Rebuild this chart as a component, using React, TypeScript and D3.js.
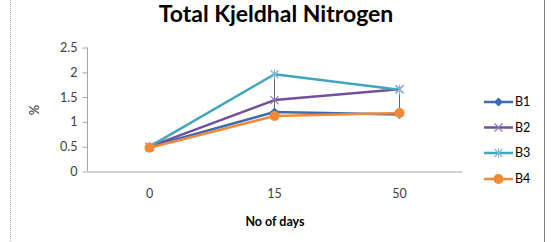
import { useEffect, useRef } from 'react';
import * as d3 from 'd3';

const days = ['0', '15', '50'];
const seriesNames = ['B1', 'B2', 'B3', 'B4'];
const b1 = [0.5, 1.2, 1.15];
const b2 = [0.5, 1.44, 1.66];
const b3 = [0.5, 1.96, 1.65];
const b4 = [0.48, 1.12, 1.18];
const yTicks = [0, 0.5, 1, 1.5, 2, 2.5];
const colors = ['#3D6DAF', '#7150A0', '#40A5BE', '#F28A35'];

export default function App() {
  const svgRef = useRef<SVGSVGElement>(null);

  useEffect(() => {
    if (!svgRef.current) return;
    const svg = d3.select(svgRef.current);
    svg.selectAll('*').remove();

    const values = [b1, b2, b3, b4];
    const font = 'Lato, "Open Sans", sans-serif';

    svg.append('rect').attr('width', 556).attr('height', 242).attr('fill', '#fff');

    // chart area borders
    svg.append('line').attr('x1', 10.5).attr('x2', 10.5).attr('y1', 0).attr('y2', 242)
      .attr('stroke', '#a6a6a6').attr('stroke-width', 1).attr('stroke-dasharray', '1,1');
    svg.append('line').attr('x1', 544.5).attr('x2', 544.5).attr('y1', 0).attr('y2', 242)
      .attr('stroke', '#7f7f7f').attr('stroke-width', 1);

    const x = d3.scaleBand().domain(days).range([87, 462]);
    const y = d3.scaleLinear().domain([0, 2.5]).range([171.5, 47.5]);

    // title
    svg.append('text')
      .attr('x', 276).attr('y', 22)
      .attr('text-anchor', 'middle')
      .attr('font-family', font).attr('font-weight', 'bold').attr('font-size', 23)
      .attr('fill', '#000')
      .text('Total Kjeldhal Nitrogen');

    // y axis
    const yAxis = svg.append('g').attr('transform', 'translate(87.5,0)')
      .call(d3.axisLeft(y).tickValues(yTicks).tickSize(5).tickFormat(d => String(d)));
    yAxis.select('.domain').attr('stroke', '#a6a6a6').attr('d', `M0,${y(2.5)}V${y(0)}`);
    yAxis.selectAll('.tick line').attr('stroke', '#a6a6a6');
    yAxis.selectAll('.tick text').attr('font-family', font).attr('font-size', 12.5)
      .attr('fill', '#404040').attr('x', -10);

    // x axis
    const xAxis = svg.append('g').attr('transform', `translate(0,${y(0)})`)
      .call(d3.axisBottom(x).tickSize(0));
    xAxis.select('.domain').attr('stroke', '#a6a6a6');
    xAxis.selectAll('.tick text').attr('font-family', font).attr('font-size', 12.5)
      .attr('fill', '#404040').attr('y', 18).attr('dy', '0.71em');

    svg.append('text')
      .attr('transform', 'translate(39,110) rotate(-90)')
      .attr('text-anchor', 'middle')
      .attr('font-family', font).attr('font-size', 13)
      .attr('fill', '#262626')
      .text('%');

    svg.append('text')
      .attr('x', 275).attr('y', 226)
      .attr('text-anchor', 'middle')
      .attr('font-family', font).attr('font-weight', 'bold').attr('font-size', 12.5)
      .text('No of days');

    const cx = (d: string) => (x(d) ?? 0) + x.bandwidth() / 2;

    const drawMarker = (g: any, i: number, px: number, py: number) => {
      const c = colors[i];
      if (i === 0) {
        g.append('path').attr('d', `M${px},${py - 4.5}L${px + 4.5},${py}L${px},${py + 4.5}L${px - 4.5},${py}Z`)
          .attr('fill', c);
      } else if (i === 1) {
        g.append('path').attr('d', `M${px - 4},${py - 4}L${px + 4},${py + 4}M${px - 4},${py + 4}L${px + 4},${py - 4}`)
          .attr('stroke', '#8a7ab8').attr('stroke-width', 1.2).attr('fill', 'none');
      } else if (i === 2) {
        g.append('path').attr('d', `M${px - 4},${py - 4}L${px + 4},${py + 4}M${px - 4},${py + 4}L${px + 4},${py - 4}M${px},${py - 5}V${py + 5}`)
          .attr('stroke', '#7fb7d6').attr('stroke-width', 1.2).attr('fill', 'none');
      } else {
        g.append('circle').attr('cx', px).attr('cy', py).attr('r', 5).attr('fill', c);
      }
    };

    // lines
    const line = d3.line<number>()
      .x((_, j) => cx(days[j]))
      .y(v => y(v));

    values.forEach((vals, i) => {
      svg.append('path')
        .attr('d', line(vals))
        .attr('fill', 'none')
        .attr('stroke', colors[i])
        .attr('stroke-width', 2.5)
        .attr('stroke-linejoin', 'round');
    });

    // high-low lines
    days.forEach((d, j) => {
      const col = values.map(v => v[j]);
      const hi = d3.max(col) ?? 0;
      const lo = d3.min(col) ?? 0;
      svg.append('line')
        .attr('x1', cx(d)).attr('x2', cx(d))
        .attr('y1', y(hi)).attr('y2', y(lo))
        .attr('stroke', '#404040').attr('stroke-width', 0.8);
    });

    values.forEach((vals, i) => {
      const g = svg.append('g');
      vals.forEach((v, j) => drawMarker(g, i, cx(days[j]), y(v)));
    });

    // legend
    const legendY = [102, 127.5, 153, 179];
    seriesNames.forEach((name, i) => {
      const ly = legendY[i];
      svg.append('line').attr('x1', 484).attr('x2', 513).attr('y1', ly).attr('y2', ly)
        .attr('stroke', colors[i]).attr('stroke-width', 2.5);
      drawMarker(svg.append('g'), i, 498.5, ly);
      svg.append('text')
        .attr('x', 515).attr('y', ly).attr('dy', '0.35em')
        .attr('font-family', font).attr('font-size', 12.5).attr('fill', '#000')
        .text(name);
    });
  }, []);

  return (
    <svg ref={svgRef} width={556} height={242}
      style={{ position: 'absolute', left: 0, top: 0, display: 'block' }} />
  );
}
